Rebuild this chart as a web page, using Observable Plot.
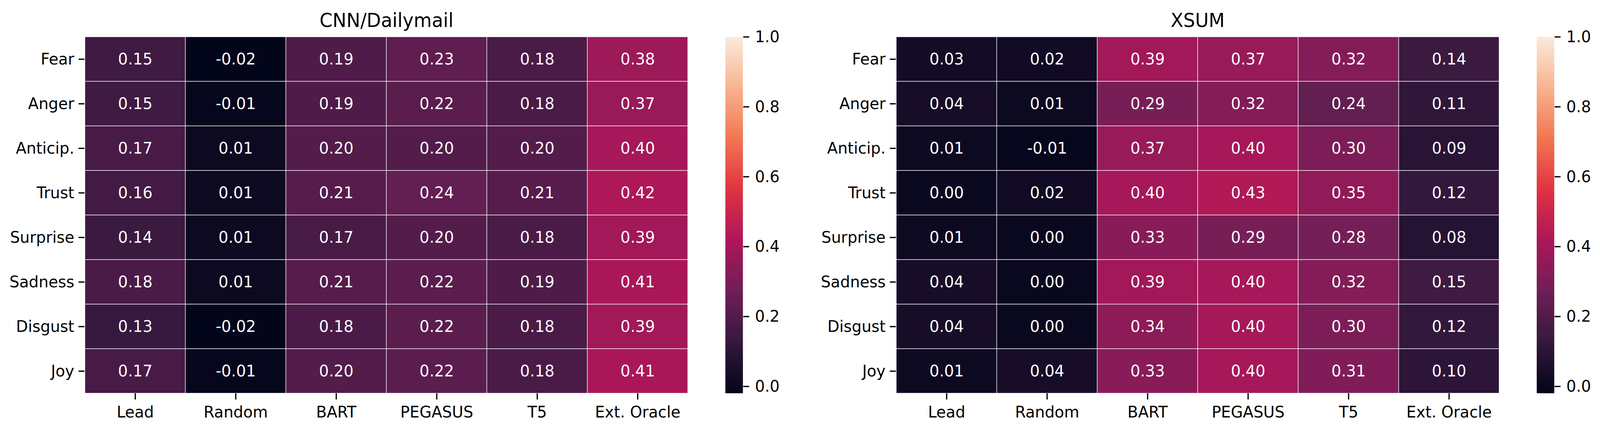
<!DOCTYPE html>
<html>
<head>
<meta charset="utf-8">
<script src="https://cdn.jsdelivr.net/npm/d3@7"></script>
<script src="https://cdn.jsdelivr.net/npm/@observablehq/plot@0.6"></script>
<style>
  html, body { margin: 0; padding: 0; background: #ffffff; overflow: hidden; }
  #fig { position: relative; width: 4299px; height: 1100px; background: #ffffff; overflow: hidden; transform-origin: 0 0; }
  #fig > svg, #fig > figure { position: absolute; top: 0; margin: 0; max-width: none; }
</style>
</head>
<body>
<div id="fig"></div>
<script>
// ---- data ----
const emotions = ["Fear", "Anger", "Anticip.", "Trust", "Surprise", "Sadness", "Disgust", "Joy"];
const models = ["Lead", "Random", "BART", "PEGASUS", "T5", "Ext. Oracle"];
const cnnValues = [
  [0.15, -0.02, 0.19, 0.23, 0.18, 0.38],
  [0.15, -0.01, 0.19, 0.22, 0.18, 0.37],
  [0.17, 0.01, 0.20, 0.20, 0.20, 0.40],
  [0.16, 0.01, 0.21, 0.24, 0.21, 0.42],
  [0.14, 0.01, 0.17, 0.20, 0.18, 0.39],
  [0.18, 0.01, 0.21, 0.22, 0.19, 0.41],
  [0.13, -0.02, 0.18, 0.22, 0.18, 0.39],
  [0.17, -0.01, 0.20, 0.22, 0.18, 0.41]
];
const xsumValues = [
  [0.03, 0.02, 0.39, 0.37, 0.32, 0.14],
  [0.04, 0.01, 0.29, 0.32, 0.24, 0.11],
  [0.01, -0.01, 0.37, 0.40, 0.30, 0.09],
  [0.00, 0.02, 0.40, 0.43, 0.35, 0.12],
  [0.01, 0.00, 0.33, 0.29, 0.28, 0.08],
  [0.04, 0.00, 0.39, 0.40, 0.32, 0.15],
  [0.04, 0.00, 0.34, 0.40, 0.30, 0.12],
  [0.01, 0.04, 0.33, 0.40, 0.31, 0.10]
];
const titles = ["CNN/Dailymail", "XSUM"];
const colorMin = [-0.02, -0.02];
const colorMax = 1.0;
const colorbarTicks = [0.0, 0.2, 0.4, 0.6, 0.8, 1.0];
// seaborn "rocket" colormap stops
const rocketStops = ["#03051a", "#35193e", "#701f57", "#ad1759", "#e13342", "#f37651", "#f6b48f", "#faebdd"];

// ---- helpers ----
const rocket = d3.piecewise(d3.interpolateRgb, rocketStops);
const FONT = "'DejaVu Sans', sans-serif";
const FS = 41.7;
const baseStyle = { fontFamily: FONT, fontSize: FS + "px", color: "black", background: "transparent", overflow: "visible", maxWidth: "none" };
const fig = document.getElementById("fig");

function heatmap(values, title, vmin, left, width) {
  const data = emotions.flatMap((e, i) => models.map((m, j) => ({ emotion: e, model: m, value: values[i][j] })));
  const p = Plot.plot({
    width, height: 1100,
    marginLeft: 227, marginRight: 0, marginTop: 94, marginBottom: 94,
    x: { domain: models, padding: 0, label: null },
    y: { domain: emotions, padding: 0, label: null },
    color: { type: "linear", domain: [vmin, colorMax], interpolate: rocket },
    style: baseStyle,
    marks: [
      Plot.cell(data, { x: "model", y: "emotion", fill: "value", inset: 0.75 }),
      Plot.text(data, { x: "model", y: "emotion", text: d => d.value.toFixed(2), fill: "white", fontSize: FS }),
      Plot.axisX({ anchor: "bottom", tickSize: 16, tickPadding: 16, strokeWidth: 3.3, fontSize: FS, label: null }),
      Plot.axisY({ anchor: "left", tickSize: 16, tickPadding: 12, strokeWidth: 3.3, fontSize: FS, label: null }),
      Plot.text([title], { frameAnchor: "top", lineAnchor: "bottom", dy: -26, fontSize: 50, fill: "black" })
    ]
  });
  p.style.left = left + "px";
  fig.appendChild(p);
}

function colorbar(vmin, left) {
  const n = 600;
  const step = (colorMax - vmin) / n;
  const ramp = d3.range(n).map(i => vmin + step * i);
  const p = Plot.plot({
    width: 47 + 120, height: 1100,
    marginLeft: 0, marginRight: 120, marginTop: 94, marginBottom: 94,
    x: { domain: [0, 1], axis: null },
    y: { domain: [vmin, colorMax], axis: null },
    color: { type: "linear", domain: [vmin, colorMax], interpolate: rocket },
    style: baseStyle,
    marks: [
      Plot.rect(ramp, { x1: () => 0, x2: () => 1, y1: d => d, y2: d => Math.min(colorMax, d + step * 1.6), fill: d => d }),
      Plot.axisY({ anchor: "right", ticks: colorbarTicks, tickFormat: d3.format(".1f"), tickSize: 16, tickPadding: 16, strokeWidth: 3.3, fontSize: FS, label: null })
    ]
  });
  p.style.left = left + "px";
  fig.appendChild(p);
}

heatmap(cnnValues, titles[0], colorMin[0], 0, 1849);
colorbar(colorMin[0], 1949);
heatmap(xsumValues, titles[1], colorMin[1], 2180, 1848);
colorbar(colorMin[1], 4129);

// the viewport may be narrower than the 4299px figure: fit it horizontally
const sx = Math.min(1, window.innerWidth / 4299);
if (sx < 1) fig.style.transform = `scale(${sx}, 1)`;
</script>
</body>
</html>
